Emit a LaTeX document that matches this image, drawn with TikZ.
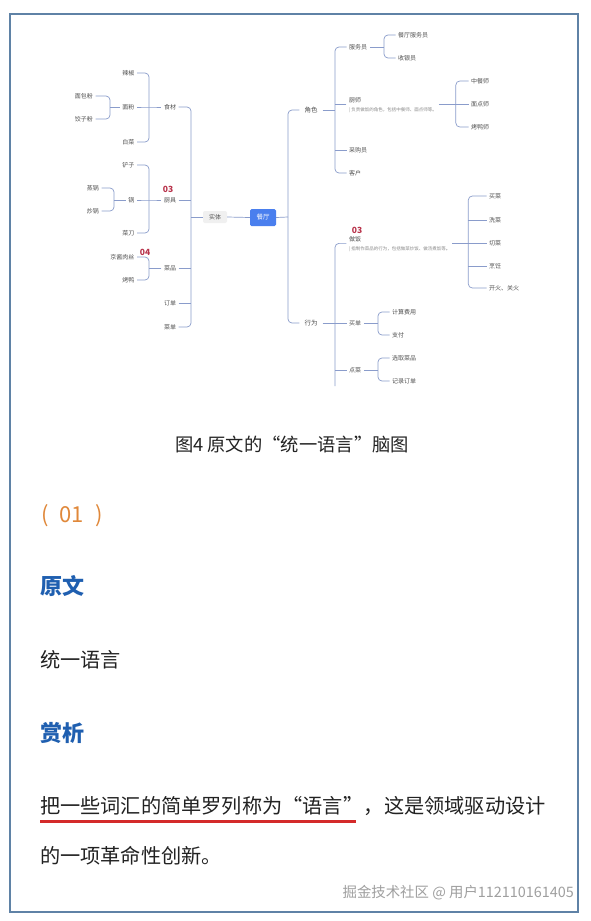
\documentclass[tikz,border=0pt]{standalone}
\usepackage{fontspec}
\setmainfont{Noto Sans CJK SC}
\usetikzlibrary{fit,calc}
\definecolor{lineC}{HTML}{8A9CCB}
\definecolor{txtC}{HTML}{505050}
\definecolor{descC}{HTML}{8A8A8A}
\definecolor{numC}{HTML}{B8324A}
\definecolor{blueBox}{HTML}{4A7FEE}
\definecolor{headC}{HTML}{1F5FB0}
\definecolor{orangeC}{HTML}{E0883A}
\definecolor{ulC}{HTML}{D42A2A}
\definecolor{frameC}{HTML}{5F82A6}
\definecolor{bodyC}{HTML}{222222}
\tikzset{
  lbl/.style={font=\fontsize{6}{7}\selectfont, text=txtC, inner sep=2.5pt},
  lblL/.style={lbl, anchor=east},
  lblR/.style={lbl, anchor=west},
  lvlone/.style={font=\fontsize{6.5}{7}\selectfont, text=txtC, inner sep=5pt},
  descr/.style={font=\fontsize{4.5}{5}\selectfont, text=descC, inner sep=1pt, anchor=west},
  numlbl/.style={font=\fontsize{8.5}{9}\selectfont\bfseries, text=numC, inner sep=0pt},
  conn/.style={draw=lineC, line width=0.7pt, rounded corners=4pt},
  entity/.style={font=\fontsize{6}{7}\selectfont, text=txtC, fill=gray!12, inner sep=0pt, minimum width=24pt, minimum height=12pt, rounded corners=2pt},
  rootbox/.style={font=\fontsize{6.5}{7}\selectfont, text=white, fill=blueBox, inner sep=0pt, minimum width=26pt, minimum height=17pt, rounded corners=1.5pt},
  heading/.style={font=\fontsize{22}{24}\selectfont\bfseries, text=headC, anchor=west},
  body/.style={font=\fontsize{20.2}{22}\selectfont, text=bodyC, anchor=west},
}
\begin{document}
\begin{tikzpicture}[x=1pt,y=-1pt]
\fill[white] (0,0) rectangle (591,921);
\useasboundingbox (0,0) rectangle (591,921);
\draw[draw=frameC, line width=2pt] (10,14) rectangle (578,912);

% ---------- left side ----------
\node[lblL] (lajiao) at (137,73) {辣椒};
\node[lblL] (mianfen) at (137,107) {面粉};
\node[lblL] (baicai) at (137,142) {白菜};
\node[lblL] (mbf) at (95.5,96) {面包粉};
\node[lblL] (jzf) at (95.5,119) {饺子粉};
\node[lblL] (chanzi) at (137,165) {铲子};
\node[lblL] (guo) at (137,200) {锅};
\node[lblL] (caidao) at (137,233) {菜刀};
\node[lblL] (zhengguo) at (101.5,188) {蒸锅};
\node[lblL] (chaoguo) at (101.5,211) {炒锅};
\node[lblL] (jjrs) at (137,257) {京酱肉丝};
\node[lblL] (kaoya) at (137,280) {烤鸭};
\node[lbl] (shicai) at (170,107) {食材};
\node[lbl] (chuju) at (170,200) {厨具};
\node[lbl] (caipin) at (170,268) {菜品};
\node[lbl] (dingdan) at (170,303) {订单};
\node[lbl] (caidan) at (170,327) {菜单};
\node[numlbl] (n03a) at (168,189) {03};
\node[numlbl] (n04) at (145,252) {04};
\node[entity] (shiti) at (215,217) {实体};
\node[rootbox] (canting) at (263,217.5) {餐厅};

\coordinate (bMF) at (110,107);
\coordinate (bSC) at (149,107);
\coordinate (bGuo) at (114,200);
\coordinate (bCJ) at (149,200);
\coordinate (bCP) at (149,268);
\coordinate (bST) at (191,217);
\coordinate (bCT) at (288,217);

\draw[conn] (mbf.east) -| (bMF) |- (jzf.east);
\draw[conn] (mianfen.west) -- (bMF);
\draw[conn] (lajiao.east) -| (bSC) |- (baicai.east);
\draw[conn] (mianfen.east) -- (bSC) -- (shicai.west);
\draw[conn] (zhengguo.east) -| (bGuo) |- (chaoguo.east);
\draw[conn] (guo.west) -- (bGuo);
\draw[conn] (chanzi.east) -| (bCJ) |- (caidao.east);
\draw[conn] (guo.east) -- (bCJ) -- (chuju.west);
\draw[conn] (jjrs.east) -| (bCP) |- (kaoya.east);
\draw[conn] (caipin.west) -- (bCP);
\draw[conn] (shicai.east) -| (bST) |- (caidan.east);
\draw[conn] (chuju.east) -- (chuju.east -| bST);
\draw[conn] (caipin.east) -- (caipin.east -| bST);
\draw[conn] (dingdan.east) -- (dingdan.east -| bST);
\draw[conn] (shiti.west) -- (bST);
\draw[conn] (shiti.east) -- (canting.west);

% ---------- right side ----------
\node[lvlone] (juese) at (311,110) {角色};
\node[lvlone] (xingwei) at (311,323) {行为};
\draw[conn] (canting.east) -- (bCT);
\draw[conn] (juese.west) -| (bCT) |- (xingwei.west);

\node[lblR] (fuwuyuan) at (346.5,47) {服务员};
\node[lblR, inner sep=2pt] (chushiT) at (347,100) {厨师};
\node[descr] (chushiD) at (348,110.5) {| 负责做饭的角色，包括中餐师、面点师等。};
\node[fit=(chushiT)(chushiD), inner sep=0.5pt] (chushi) {};
\node[lblR] (caigouyuan) at (346.5,150) {采购员};
\node[lblR] (kehu) at (346.5,173) {客户};
\node[lblR] (cfwy) at (395.5,35) {餐厅服务员};
\node[lblR] (syy) at (395.5,58) {收银员};
\node[lblR] (zhongcan) at (468.5,81) {中餐师};
\node[lblR] (miandian) at (468.5,104.5) {面点师};
\node[lblR] (kaoyashi) at (468.5,127) {烤鸭师};

\coordinate (bJS) at (335,110);
\coordinate (bFWY) at (384,47);
\coordinate (bCS) at ([xshift=17pt]chushi.east);

\draw[conn] (juese.east) -- (bJS);
\draw[conn] (fuwuyuan.west) -| (bJS) |- (kehu.west);
\draw[conn] (chushi.west) -- (chushi.west -| bJS);
\draw[conn] (caigouyuan.west) -- (caigouyuan.west -| bJS);
\draw[conn] (fuwuyuan.east) -- (bFWY);
\draw[conn] (cfwy.west) -| (bFWY) |- (syy.west);
\draw[conn] (chushi.east) -- (bCS);
\draw[conn] (zhongcan.west) -| (bCS) |- (kaoyashi.west);
\draw[conn] (miandian.west) -- (miandian.west -| bCS);

\node[numlbl] (n03b) at (357,230) {03};
\node[lblR, inner sep=2pt] (zuofanT) at (347,239) {做饭};
\node[descr] (zuofanD) at (348,249) {| 指制作菜品的行为，包括做菜炒饭、做汤煮饭等。};
\node[fit=(zuofanT)(zuofanD), inner sep=0.5pt] (zuofan) {};
\node[lblR] (maidan) at (346.5,323) {买单};
\node[lblR] (diancai) at (346.5,370) {点菜};
\node[lblR] (maicai) at (486.5,196) {买菜};
\node[lblR] (xicai) at (486.5,220) {洗菜};
\node[lblR] (qiecai) at (486.5,243) {切菜};
\node[lblR] (pengren) at (486.5,266) {烹饪};
\node[lblR] (kaiguan) at (486.5,288) {开火、关火};
\node[lblR] (jisuan) at (389.5,312) {计算费用};
\node[lblR] (zhifu) at (389.5,335) {支付};
\node[lblR] (xuanqu) at (389.5,358) {选取菜品};
\node[lblR] (jilu) at (389.5,381) {记录订单};

\coordinate (bXW) at (335,323);
\coordinate (bXWend) at (335,386);
\coordinate (bZF) at ([xshift=16pt]zuofan.east);
\coordinate (bMD) at (378,323);
\coordinate (bDC) at (378,370);

\draw[conn] (xingwei.east) -- (bXW);
\draw[conn] (zuofan.west) -| (bXW) -- (bXWend);
\draw[conn] (maidan.west) -- (maidan.west -| bXW);
\draw[conn] (diancai.west) -- (diancai.west -| bXW);
\draw[conn] (zuofan.east) -- (bZF);
\draw[conn] (maicai.west) -| (bZF) |- (kaiguan.west);
\draw[conn] (xicai.west) -- (xicai.west -| bZF);
\draw[conn] (qiecai.west) -- (qiecai.west -| bZF);
\draw[conn] (pengren.west) -- (pengren.west -| bZF);
\draw[conn] (maidan.east) -- (bMD);
\draw[conn] (jisuan.west) -| (bMD) |- (zhifu.west);
\draw[conn] (diancai.east) -- (bDC);
\draw[conn] (xuanqu.west) -| (bDC) |- (jilu.west);

% ---------- text part ----------
\node[font=\fontsize{18.3}{20}\selectfont, text=bodyC] (cap) at (292,445) {图4 原文的“统一语言”脑图};
\node[anchor=west, font=\fontsize{22}{24}\selectfont, text=orangeC, inner sep=0pt] (num01) at (41,516) {(\kern11pt 01\kern11pt)};
\node[heading, inner sep=0pt] (h1) at (40,586) {原文};
\node[body, inner sep=0pt] (t1) at (40,660) {统一语言};
\node[heading, inner sep=0pt] (h2) at (40,733) {赏析};
\node[body, inner sep=0pt] (ul) at (40,806) {把一些词汇的简单罗列称为“语言”};
\node[body, inner sep=0pt] (rest) at (ul.east) {，这是领域驱动设计};
\node[body, inner sep=0pt] (l2) at (40,856) {的一项革命性创新。};
\draw[draw=ulC, line width=2.5pt] ($(ul.south west)+(0,6)$) -- ($(ul.south east)+(-8,6)$);
\node[anchor=east, font=\fontsize{14.4}{16}\selectfont, text=gray!75, inner sep=0pt] (wm) at (574,893) {掘金技术社区 @ 用户112110161405};
\end{tikzpicture}
\end{document}
